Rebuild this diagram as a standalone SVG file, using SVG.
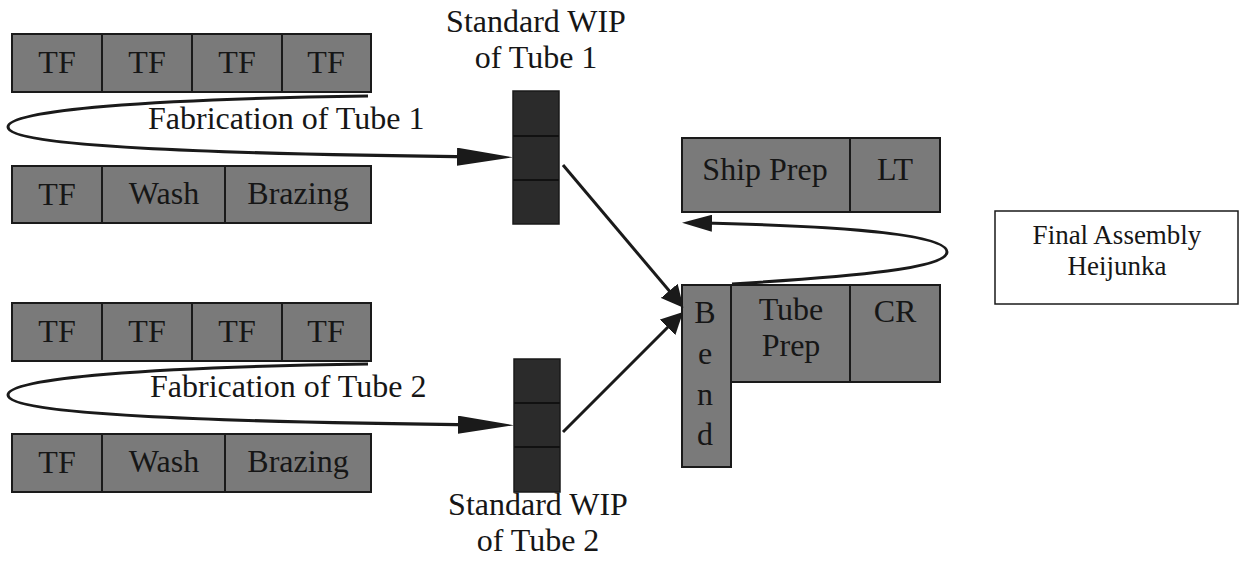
<svg xmlns="http://www.w3.org/2000/svg" width="1241" height="562" viewBox="0 0 1241 562">
<defs>
<marker id="ahLong" viewBox="0 0 56 18" refX="33" refY="9" markerWidth="56" markerHeight="18" markerUnits="userSpaceOnUse" orient="auto">
<path d="M0,0 L56,9 L0,18 z" fill="#1a1a1a"/>
</marker>
<marker id="ahShort" viewBox="0 0 22 22" refX="12" refY="11" markerWidth="22" markerHeight="22" markerUnits="userSpaceOnUse" orient="auto">
<path d="M0,0 L22,11 L0,22 z" fill="#1a1a1a"/>
</marker>
<marker id="ahMed" viewBox="0 0 30 17" refX="15" refY="8.5" markerWidth="30" markerHeight="17" markerUnits="userSpaceOnUse" orient="auto">
<path d="M0,0 L30,8.5 L0,17 z" fill="#1a1a1a"/>
</marker>
</defs>
<style>
.cell{fill:#7a7a7a;stroke:#1a1a1a;stroke-width:2}
.wip{fill:#2b2b2b;stroke:#1a1a1a;stroke-width:1.5}
.div{stroke:#111;stroke-width:2}
.t{font-family:"Liberation Serif","Times New Roman",serif;font-size:32px;fill:#161616;text-anchor:middle}
.small{font-family:"Liberation Serif","Times New Roman",serif;font-size:27px;fill:#161616;text-anchor:middle}
.con{fill:none;stroke:#1a1a1a;stroke-width:3}
</style>
<rect width="1241" height="562" fill="#fff"/>

<g id="tube1-row1">
<rect class="cell" x="12" y="34" width="90" height="58"/>
<rect class="cell" x="102" y="34" width="90" height="58"/>
<rect class="cell" x="192" y="34" width="90" height="58"/>
<rect class="cell" x="282" y="34" width="89" height="58"/>
<text class="t" x="57" y="73">TF</text>
<text class="t" x="147" y="73">TF</text>
<text class="t" x="237" y="73">TF</text>
<text class="t" x="326" y="73">TF</text>
</g>
<g id="tube1-row2">
<rect class="cell" x="12" y="166" width="90" height="57"/>
<rect class="cell" x="102" y="166" width="123" height="57"/>
<rect class="cell" x="225" y="166" width="146" height="57"/>
<text class="t" x="57" y="205">TF</text>
<text class="t" x="164" y="204">Wash</text>
<text class="t" x="298" y="204">Brazing</text>
</g>

<g id="tube2-row1">
<rect class="cell" x="12" y="303" width="90" height="58"/>
<rect class="cell" x="102" y="303" width="90" height="58"/>
<rect class="cell" x="192" y="303" width="90" height="58"/>
<rect class="cell" x="282" y="303" width="89" height="58"/>
<text class="t" x="57" y="342">TF</text>
<text class="t" x="147" y="342">TF</text>
<text class="t" x="237" y="342">TF</text>
<text class="t" x="326" y="342">TF</text>
</g>
<g id="tube2-row2">
<rect class="cell" x="12" y="434" width="90" height="58"/>
<rect class="cell" x="102" y="434" width="123" height="58"/>
<rect class="cell" x="225" y="434" width="146" height="58"/>
<text class="t" x="57" y="473">TF</text>
<text class="t" x="164" y="472">Wash</text>
<text class="t" x="298" y="472">Brazing</text>
</g>

<g id="wip1">
<rect class="wip" x="513" y="91" width="46" height="133"/>
<line class="div" x1="513" y1="136" x2="559" y2="136"/>
<line class="div" x1="513" y1="180" x2="559" y2="180"/>
<text class="t" x="536" y="32">Standard WIP</text>
<text class="t" x="536" y="68">of Tube 1</text>
</g>
<g id="wip2">
<rect class="wip" x="514" y="359" width="46" height="133"/>
<line class="div" x1="514" y1="403" x2="560" y2="403"/>
<line class="div" x1="514" y1="447" x2="560" y2="447"/>
<text class="t" x="538" y="515">Standard WIP</text>
<text class="t" x="538" y="551">of Tube 2</text>
</g>

<g id="final-top">
<rect class="cell" x="682" y="138" width="168" height="74"/>
<rect class="cell" x="850" y="138" width="90" height="74"/>
<text class="t" x="765" y="180">Ship Prep</text>
<text class="t" x="895" y="180">LT</text>
</g>
<g id="final-bottom">
<rect class="cell" x="682" y="285" width="49" height="182"/>
<rect class="cell" x="731" y="285" width="119" height="97"/>
<rect class="cell" x="850" y="285" width="90" height="97"/>
<text class="t" x="705" y="323">B</text>
<text class="t" x="705" y="364">e</text>
<text class="t" x="705" y="405">n</text>
<text class="t" x="705" y="445">d</text>
<text class="t" x="791" y="320">Tube</text>
<text class="t" x="791" y="356">Prep</text>
<text class="t" x="895" y="322">CR</text>
</g>

<g id="heijunka">
<rect x="995" y="211" width="243" height="93" fill="#fff" stroke="#1a1a1a" stroke-width="1.5"/>
<text class="small" x="1117" y="244">Final Assembly</text>
<text class="small" x="1117" y="275">Heijunka</text>
</g>

<g id="labels">
<text class="t" x="148" y="129" style="text-anchor:start">Fabrication of Tube 1</text>
<text class="t" x="150" y="397" style="text-anchor:start">Fabrication of Tube 2</text>
</g>

<g id="connectors">
<path class="con" d="M368,96 C150,99 8,110 8,127 C8,146 200,154 490,157" marker-end="url(#ahLong)"/>
<path class="con" d="M368,364 C150,367 8,378 8,395 C8,414 200,422 491,425" marker-end="url(#ahLong)"/>
<line class="con" x1="563" y1="165" x2="677" y2="300" marker-end="url(#ahShort)"/>
<line class="con" x1="563" y1="432" x2="676" y2="319" marker-end="url(#ahShort)"/>
<path class="con" d="M732,284 C860,276 947,268 947,252 C947,236 860,226 697,223" marker-end="url(#ahMed)"/>
</g>
</svg>
